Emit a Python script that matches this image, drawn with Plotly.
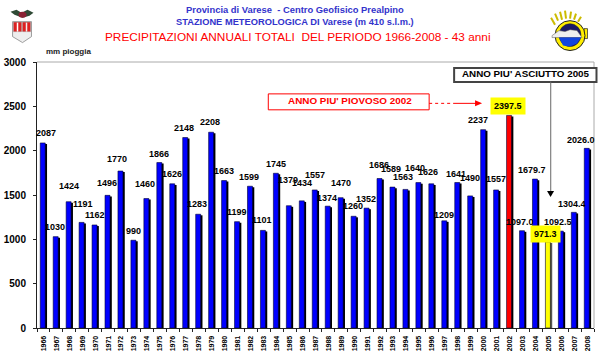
import plotly.graph_objects as go

years = [str(y) for y in range(1966, 2009)]
rain_mm = [2087, 1030, 1424, 1191, 1162, 1496, 1770, 990, 1460, 1866, 1626, 2148, 1283, 2208, 1663,
           1199, 1599, 1101, 1745, 1379, 1434, 1557, 1374, 1470, 1260, 1352, 1686, 1589, 1563, 1640,
           1626, 1209, 1641, 1490, 2237, 1557, 2397.5, 1097.0, 1679.7, 971.3, 1092.5, 1304.4, 2026.0]
labels = ["2087", "1030", "1424", "1191", "1162", "1496", "1770", "990", "1460", "1866", "1626", "2148",
          "1283", "2208", "1663", "1199", "1599", "1101", "1745", "1379", "1434", "1557", "1374", "1470",
          "1260", "1352", "1686", "1589", "1563", "1640", "1626", "1209", "1641", "1490", "2237", "1557",
          "2397.5", "1097.0", "1679.7", "971.3", "1092.5", "1304.4", "2026.0"]
label_dx = [3, -1, 0, 1, 0, -1, -4, 0, -1, 0, 0, -1, -1, -1, 0, 0, -1, -1, 0, -1, 0, 0, -1, 0, -1, -1,
            -1, -2, -2, -3, -3, 0, -1, 0, -5, 0, -1, -2, -3, -2, -3, -2, -6]
label_dy = [10, 10, 16, 18, 10, 12, 12, 9, 15, 9, 10, 10, 10, 10, 10, 10, 9, 10, 9, 26, 18, 15, 8, 15,
            10, 9, 14, 18, 12, 15, 12, 6, 9, 18, 10, 11, 9, 9, 9, 8, 9, 8, 8]

W, H = 600, 358
L, R, T, B = 36.5, 594, 61.5, 328.5
BLUE, RED, YEL = "#0000ff", "#ff0000", "#ffff00"
colors = [RED if y == "2002" else YEL if y == "2005" else BLUE for y in years]
shadow = ["#555555" if y == "2005" else "#000000" for y in years]

def px(x):
    return (x - L) / (R - L)

def py(y):
    return (B - y) / (B - T)

fig = go.Figure()
fig.add_bar(x=years, y=[v - 12 for v in rain_mm], width=0.385, offset=-0.11,
            marker=dict(color=shadow, line_width=0), hoverinfo="skip", showlegend=False)
fig.add_bar(x=years, y=rain_mm, width=0.385, offset=-0.25,
            marker=dict(color=colors, line=dict(color="#000033", width=0.6)), showlegend=False)

FONT = "Liberation Sans"
ann = []
for i, (yr, v, t) in enumerate(zip(years, rain_mm, labels)):
    hl = yr in ("2002", "2005")
    ann.append(dict(x=i, y=v, xref="x", yref="y", text=f"<b>{t}</b>", showarrow=False,
                    xanchor="center", yanchor="middle", xshift=label_dx[i] - 0.7, yshift=label_dy[i],
                    font=dict(family=FONT, size=9, color="#000000"),
                    bgcolor=YEL if hl else "rgba(0,0,0,0)", borderpad=3 if hl else 0))

def text(x, y, s, size, color, xanchor="center", bold=True):
    ann.append(dict(x=px(x), y=py(y), xref="paper", yref="paper", showarrow=False, xanchor=xanchor,
                    yanchor="middle", text=f"<b>{s}</b>" if bold else s,
                    font=dict(family=FONT, size=size, color=color)))

text(295, 9, "Provincia di Varese  - Centro Geofisico Prealpino", 9.4, "#3333cc")
text(294.5, 21, "STAZIONE METEOROLOGICA DI Varese (m 410 s.l.m.)", 9.3, "#3333cc")
text(297.5, 36, "PRECIPITAZIONI ANNUALI TOTALI  DEL PERIODO 1966-2008 - 43 anni", 11.8, "#ff0000", bold=False)
text(44, 51, "mm pioggia", 8, "#222222", "left")
text(349.5, 100, "ANNO PIU' PIOVOSO 2002", 9.9, "#ff0000")
text(526, 73.5, "ANNO PIU' ASCIUTTO 2005", 9.8, "#000000")

def rect(x0, y0, x1, y1, fill="rgba(0,0,0,0)", line="#000000", w=1, layer="above"):
    return dict(type="rect", xref="paper", yref="paper", x0=px(x0), x1=px(x1), y0=py(y0), y1=py(y1),
                fillcolor=fill, line=dict(color=line, width=w), layer=layer)

def seg(x0, y0, x1, y1, color, w=1, dash="solid", layer="above"):
    return dict(type="line", xref="paper", yref="paper", x0=px(x0), x1=px(x1), y0=py(y0), y1=py(y1),
                line=dict(color=color, width=w, dash=dash), layer=layer)

def path(pts, fill, line="rgba(0,0,0,0)", w=0.5):
    d = "M" + " L".join(f"{px(x):.4f},{py(y):.4f}" for x, y in pts) + " Z"
    return dict(type="path", xref="paper", yref="paper", path=d, fillcolor=fill, line=dict(color=line, width=w))

def disc(x0, y0, x1, y1, fill, line="rgba(0,0,0,0)", w=0.5):
    return dict(type="circle", xref="paper", yref="paper", x0=px(x0), x1=px(x1), y0=py(y0), y1=py(y1),
                fillcolor=fill, line=dict(color=line, width=w))

shapes = [
    seg(L, T, R, T, "#aaaaaa"),
    seg(R, T, R, B, "#aaaaaa"),
    rect(268, 93.5, 429, 109.5, "#ffffff", "#ff0000"),
    seg(429, 103, 453, 103, "#ff0000", 1, "dot"),
    seg(453, 103, 476, 103, "#ff0000", 1),
    path([(475, 100), (482, 103), (475, 106)], "#ff0000"),
    rect(454, 67.5, 596.5, 81.5, "#ffffff", "#444444", 2),
    seg(550.7, 81, 550.7, 191, "#666666", 1),
    path([(547, 191), (554, 191), (550.5, 197)], "#000000"),
    # left crest
    path([(12, 21), (31, 21), (31, 36), (22, 42), (12, 36)], "#eeeeee", "#777777", 0.7),
    rect(13, 21.5, 21, 31, "#dd2222", "#777777", 0.3),
    rect(22, 21.5, 30, 31, "#dd2222", "#777777", 0.3),
    seg(17, 22, 17, 31, "#ffffff", 1.5),
    seg(26, 22, 26, 31, "#eeeeee", 1.5),
    path([(10, 11), (16, 9), (21, 12), (27, 9), (33, 12), (29, 15), (22, 17), (14, 14)], "#2f4a35"),
    disc(18, 11, 26, 17, "#8a2233"),
    # right logo: rays, ring, handle, cloud, water
    seg(555, 24, 551, 17, "#ccbb00", 2), seg(558, 20, 555, 13, "#ccbb00", 2),
    seg(562, 19, 560, 11, "#ccbb00", 2), seg(566, 18, 565, 10, "#ccbb00", 2),
    seg(570, 18, 571, 11, "#ccbb00", 2), seg(574, 19, 576, 13, "#ccbb00", 2),
    seg(578, 21, 581, 16, "#ccbb00", 2),
    rect(584, 28, 587.5, 38, "#ffee00", "#222222", 0.7),
    disc(555, 20, 585, 50, "#ffee00", "#222222", 1),
    disc(559, 23, 581, 46, "#1a1a66", "#222222", 0.5),
    path([(552, 35), (559, 30), (565, 31), (570, 29), (577, 30), (582, 37), (552, 37)], "#eeeeee", "#555555", 0.5),
    path([(559, 37), (581, 37), (577, 43), (570, 46), (563, 45)], "#1144dd"),
]

fig.update_layout(
    width=W, height=H, autosize=False, paper_bgcolor="#ffffff", plot_bgcolor="#ffffff",
    margin=dict(l=L, r=W - R, t=T, b=H - B, pad=0, autoexpand=False), barmode="overlay", bargap=0.6,
    annotations=ann, shapes=shapes, showlegend=False,
    xaxis=dict(type="category", categoryorder="array", categoryarray=years, range=[-0.5, 42.5],
               tickangle=-90, tickfont=dict(family=FONT, size=7, color="#000000", weight="bold"),
               ticks="outside", ticklen=3, tickcolor="#222222", tickson="boundaries", ticklabelstandoff=4,
               showline=True, linecolor="#222222", linewidth=1, showgrid=False, automargin=False),
    yaxis=dict(range=[0, 3000], tickvals=[0, 500, 1000, 1500, 2000, 2500, 3000],
               tickfont=dict(family=FONT, size=10, color="#000000", weight="bold"),
               ticks="outside", ticklen=3, tickcolor="#222222", showline=True, linecolor="#222222",
               ticklabelstandoff=5, linewidth=1, showgrid=False, zeroline=False, automargin=False),
)
fig.write_html("out.html", config=dict(displayModeBar=False),
               post_script="document.body.style.margin='0';document.documentElement.style.overflow='hidden';")
